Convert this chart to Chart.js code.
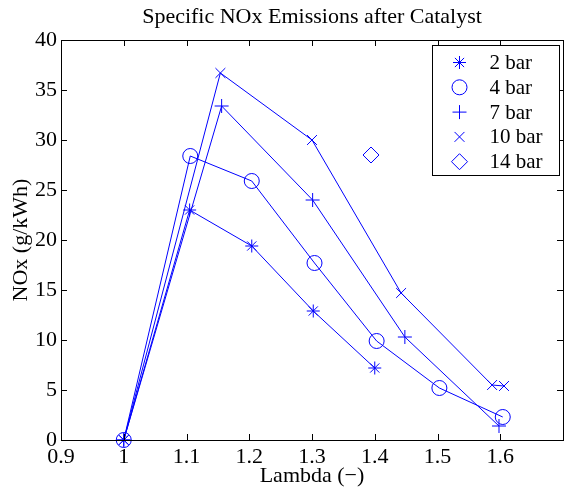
<!DOCTYPE html>
<html lang="en">
<head>
  <meta charset="UTF-8">
  <title>Specific NOx Emissions after Catalyst</title>
  <script src="https://cdn.jsdelivr.net/npm/chart.js"></script>
  <style>
    html, body { margin: 0; padding: 0; background: #fff; }
    #wrap { width: 572px; height: 491px; }
  </style>
</head>
<body>
  <div id="wrap"><canvas id="noxChart" width="572" height="491"></canvas></div>

  <script>
    // values
    const lambda2 = [1.0, 1.105, 1.204, 1.302, 1.400];
    const nox2 = [0, 23.0, 19.4, 12.9, 7.2];

    const lambda4 = [1.0, 1.106, 1.204, 1.304, 1.403, 1.503, 1.604];
    const nox4 = [0, 28.4, 25.9, 17.7, 9.9, 5.2, 2.3];

    const lambda7 = [1.0, 1.156, 1.301, 1.448, 1.598];
    const nox7 = [0, 33.4, 24.0, 10.3, 1.4];

    const lambda10 = [1.0, 1.154, 1.300, 1.442, 1.587, 1.606];
    const nox10 = [0, 36.7, 30.0, 14.7, 5.5, 5.4];

    const lambda14 = [1.394];
    const nox14 = [28.5];

    const seriesNames = ['2 bar', '4 bar', '7 bar', '10 bar', '14 bar'];
    const markers = ['star', 'circle', 'cross', 'crossRot', 'rectRot'];
    const markerSizes = [6.5, 7.5, 7, 7, 8];

    const serif = "'Liberation Serif', 'DejaVu Serif', serif";
    const blue = '#0000ff';

    const toPoints = (xs, ys) => xs.map((x, i) => ({ x: x, y: ys[i] }));
    const allX = [lambda2, lambda4, lambda7, lambda10, lambda14];
    const allY = [nox2, nox4, nox7, nox10, nox14];

    const datasets = seriesNames.map((name, i) => ({
      label: name,
      data: toPoints(allX[i], allY[i]),
      showLine: allX[i].length > 1,
      borderColor: blue,
      borderWidth: 1,
      backgroundColor: 'transparent',
      pointStyle: markers[i],
      pointRadius: markerSizes[i],
      pointBorderColor: blue,
      pointBackgroundColor: 'transparent',
      pointBorderWidth: 1,
      clip: false
    }));

    // box round the axes, inward ticks and legend, matlab style
    const matlabFrame = {
      id: 'matlabFrame',
      afterDatasetsDraw(chart) {
        const ctx = chart.ctx;
        const a = chart.chartArea;
        const xs = chart.scales.x, ys = chart.scales.y;
        ctx.save();
        ctx.strokeStyle = '#000';
        ctx.lineWidth = 1;
        ctx.beginPath();
        xs.ticks.forEach(t => {
          if (t.value <= xs.min + 1e-9 || t.value >= xs.max - 1e-9) return;
          const px = Math.round(xs.getPixelForValue(t.value)) + 0.5;
          ctx.moveTo(px, a.bottom); ctx.lineTo(px, a.bottom - 6);
          ctx.moveTo(px, a.top); ctx.lineTo(px, a.top + 6);
        });
        ys.ticks.forEach(t => {
          if (t.value <= ys.min + 1e-9 || t.value >= ys.max - 1e-9) return;
          const py = Math.round(ys.getPixelForValue(t.value)) + 0.5;
          ctx.moveTo(a.left, py); ctx.lineTo(a.left + 6, py);
          ctx.moveTo(a.right, py); ctx.lineTo(a.right - 6, py);
        });
        ctx.stroke();
        ctx.strokeRect(Math.round(a.left) + 0.5, Math.round(a.top) + 0.5,
                       Math.round(a.right - a.left), Math.round(a.bottom - a.top));

        // legend
        const lw = 127, rowH = 24.8;
        const lx = Math.round(a.right - 4 - lw) + 0.5;
        const ly = Math.round(a.top + 5) + 0.5;
        const lh = Math.round(rowH * seriesNames.length + 6);
        ctx.fillStyle = '#fff';
        ctx.fillRect(lx, ly, lw, lh);
        ctx.strokeRect(lx, ly, lw, lh);
        ctx.font = '21px ' + serif;
        ctx.textBaseline = 'middle';
        ctx.textAlign = 'left';
        seriesNames.forEach((name, i) => {
          const cy = ly + 17 + i * rowH;
          ctx.strokeStyle = blue;
          ctx.fillStyle = 'rgba(0,0,0,0)';
          Chart.helpers.drawPoint(ctx, {
            pointStyle: markers[i],
            radius: markerSizes[i],
            borderWidth: 1,
            rotation: 0
          }, lx + 27, cy);
          ctx.fillStyle = '#000';
          ctx.fillText(name, lx + 57, cy + 1);
        });
        ctx.restore();
      }
    };

    const ctx = document.getElementById('noxChart').getContext('2d');
    new Chart(ctx, {
      type: 'scatter',
      data: { datasets: datasets },
      plugins: [matlabFrame],
      options: {
        responsive: false,
        animation: false,
        devicePixelRatio: 1,
        layout: { padding: { top: 0, right: 5, bottom: 0, left: 0 } },
        plugins: {
          legend: { display: false },
          tooltip: { enabled: false },
          title: {
            display: true,
            text: 'Specific NOx Emissions after Catalyst',
            fullSize: false,
            color: '#000',
            font: { family: serif, size: 22, weight: 'normal' },
            padding: { top: 4, bottom: 9.6 }
          }
        },
        scales: {
          x: {
            type: 'linear',
            min: 0.9,
            max: 1.7,
            grid: { display: false, drawTicks: false },
            border: { display: false },
            afterFit: s => { s.height = 51; s.paddingLeft = 0; s.paddingRight = 0; },
            ticks: {
              stepSize: 0.1,
              color: '#000',
              padding: 4,
              font: { family: serif, size: 22 },
              callback: v => Math.abs(v - 1.7) < 1e-6 ? '' : String(Number(v.toFixed(1)))
            },
            title: {
              display: true,
              text: 'Lambda (\u2212)',
              color: '#000',
              font: { family: serif, size: 22 },
              padding: { top: 0, bottom: 2 }
            }
          },
          y: {
            min: 0,
            max: 40,
            grid: { display: false, drawTicks: false },
            border: { display: false },
            afterFit: s => { s.width = 61; },
            ticks: {
              stepSize: 5,
              color: '#000',
              padding: 4,
              font: { family: serif, size: 22 }
            },
            title: {
              display: true,
              text: 'NOx (g/kWh)',
              color: '#000',
              font: { family: serif, size: 22 },
              padding: { top: 8, bottom: 0 }
            }
          }
        }
      }
    });
  </script>
</body>
</html>
